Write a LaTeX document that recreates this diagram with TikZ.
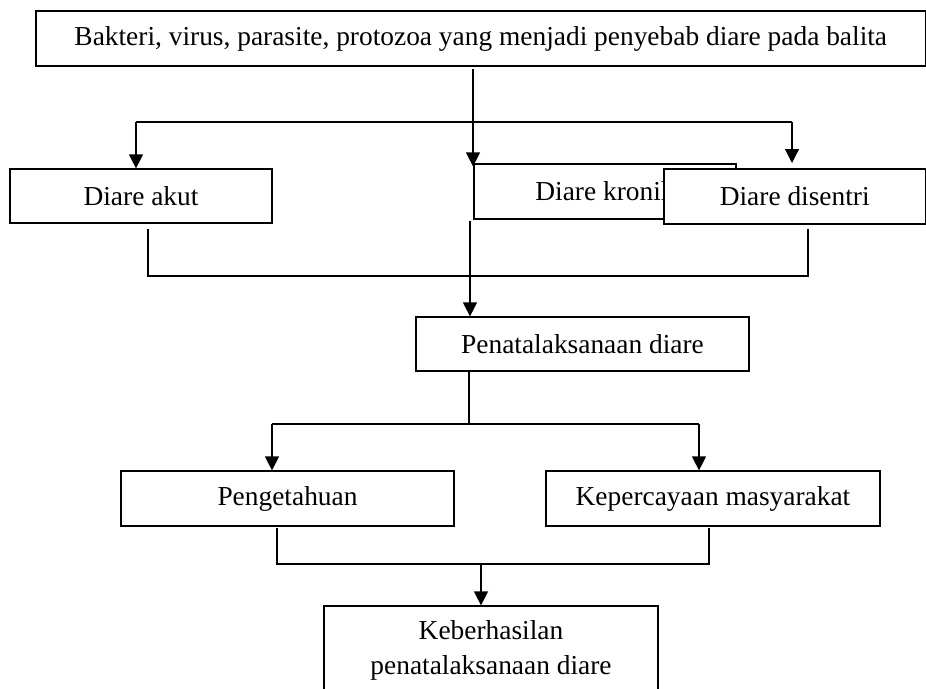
\documentclass[tikz,border=0pt]{standalone}
\usepackage{fontspec}
\setmainfont{Liberation Serif}
\usetikzlibrary{arrows.meta}

\begin{document}
\begin{tikzpicture}[
    x=1pt, y=-1pt,
    % Estilo das caixas
    kotak/.style={draw, fill=white, line width=1.2pt, inner sep=0pt,
        minimum width=262, minimum height=55,
        font=\fontsize{27.4}{35}\selectfont, align=center},
    % Linhas e setas de ligação
    garis/.style={line width=1.2pt},
    panah/.style={line width=1.2pt, -{Triangle[width=14pt,length=14pt]}}
]
    \useasboundingbox (0,0) rectangle (926,688);

    % ==========================================
    % 1. CAIXAS
    % ==========================================
    \node[kotak, minimum width=889.5] (penyebab) at (480.75,38.5)
        {Bakteri, virus, parasite, protozoa yang menjadi penyebab diare pada balita};
    \node[kotak, minimum height=54] (akut) at (141,196) {Diare akut};
    \node[kotak] (kronik) at (605,191.5) {Diare kronik};
    \node[kotak, minimum width=261.5] (disentri) at (794.75,196.5) {Diare disentri};
    \node[kotak, minimum width=333, minimum height=54] (tatalaksana) at (582.5,344)
        {Penatalaksanaan diare};
    \node[kotak, minimum width=333] (tahu) at (287.5,498.5) {Pengetahuan};
    \node[kotak, minimum width=334] (percaya) at (713,498.5) {Kepercayaan masyarakat};
    \node[kotak, minimum width=334, minimum height=88] (hasil) at (491,650)
        {Keberhasilan\\penatalaksanaan diare};

    % ==========================================
    % 2. LIGAÇÕES
    % ==========================================
    % Do topo para os três tipos de diare
    \coordinate (cabangA) at (136,122);
    \coordinate (cabangB) at (792,122);
    \coordinate (pusat) at (473,69);
    \draw[panah] (pusat) -- (pusat |- kronik.north) -- ++(0,3);
    \draw[garis] (cabangA) -- (cabangB);
    \draw[panah] (cabangA) -- (cabangA |- akut.north);
    \draw[panah] (cabangB) -- ++(0,41);

    % Dos três tipos para a penatalaksanaan
    \coordinate (gabungA) at (148,276);
    \coordinate (gabungB) at (808,276);
    \coordinate (turunA) at (470,221);
    \draw[garis] (148,229) -- (gabungA) -- (gabungB) -- (808,229);
    \draw[panah] (turunA) -- (turunA |- tatalaksana.north);

    % Da penatalaksanaan para os dois fatores
    \coordinate (cabangC) at (272,424);
    \coordinate (cabangD) at (699,424);
    \coordinate (turunB) at (469,424);
    \draw[garis] (turunB |- tatalaksana.south) -- (turunB);
    \draw[garis] (cabangC) -- (cabangD);
    \draw[panah] (cabangC) -- (cabangC |- tahu.north);
    \draw[panah] (cabangD) -- (cabangD |- percaya.north);

    % Dos dois fatores para o resultado
    \coordinate (gabungC) at (277,564);
    \coordinate (gabungD) at (709,564);
    \coordinate (turunC) at (481,564);
    \draw[garis] (277,528) -- (gabungC) -- (gabungD) -- (709,528);
    \draw[panah] (turunC) -- (turunC |- hasil.north);

\end{tikzpicture}
\end{document}
